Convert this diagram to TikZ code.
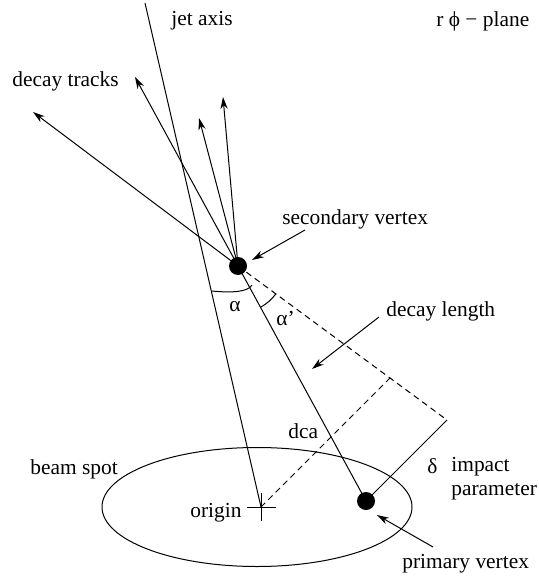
\documentclass[tikz,border=0pt]{standalone}
\usepackage{fontspec}
\setmainfont{Liberation Serif}
\usetikzlibrary{arrows.meta,calc}
\begin{document}
\begin{tikzpicture}[x=0.5pt,y=-0.5pt,
  ln/.style={line width=0.5pt},
  arr/.style={ln,-{Stealth[length=6pt,width=3.6pt]}},
  dsh/.style={ln,dash pattern=on 3pt off 2.2pt},
  lbl/.style={anchor=base west,inner sep=0pt,font=\fontsize{10.7}{12.8}\selectfont},
  vtx/.style={circle,fill=black,inner sep=0pt,minimum size=9pt}]
\useasboundingbox (0,0) rectangle (538,577);
% key points
\node[vtx] (sv) at (238,266) {};
\node[vtx] (pv) at (366,501) {};
\coordinate (jtop) at (145,3);
\coordinate (orig) at (261,507);
\coordinate (flend) at (447,420);
\coordinate (dcafoot) at (390,378);
\coordinate (t1) at (33,112);
\coordinate (t2) at (135,77);
\coordinate (t3) at (199,118);
\coordinate (t4) at (223,97);
% beam spot
\draw[ln] (257,507) ellipse [x radius=77.5pt, y radius=29.75pt];
% jet axis
\draw[ln] (jtop) -- (orig);
% origin cross
\coordinate (cl) at (247,507); \coordinate (cr) at (276,507);
\coordinate (ct) at (261,493); \coordinate (cb) at (261,521);
\draw[ln] (cl) -- (cr);
\draw[ln] (ct) -- (cb);
% decay tracks
\draw[arr] (sv.center) -- (t1);
\draw[arr] (sv.center) -- (t2);
\draw[arr] (sv.center) -- (t3);
\draw[arr] (sv.center) -- (t4);
% flight line and impact parameter
\draw[ln] (sv.center) -- (pv.center);
\draw[dsh] (sv.center) -- (flend);
\draw[ln] (flend) -- (pv.center);
\draw[dsh] (orig) -- (dcafoot);
% angles
\coordinate (a1) at (212,291); \coordinate (a2) at (252,285);
\draw[ln] (a1) .. controls (232,293) and (248,292) .. (a2);
\draw[ln] ($(sv.center)+(-61.4:23.5pt)$) arc[start angle=-61.4,end angle=-36.3,radius=23.5pt];
% labels
\node[lbl] (ljet) at (171,26) {jet axis};
\node[lbl] (lplane) at (436,27) {r ϕ − plane};
\node[lbl] (ltracks) at (12,87) {decay tracks};
\node[lbl] (lsv) at (282,224) {secondary vertex};
\node[lbl] (ldl) at (386,316) {decay length};
\node[lbl] (lalpha) at (229,311) {α};
\node[lbl] (lalphap) at (276,325) {α’};
\node[lbl] (ldca) at (288,438) {dca};
\node[lbl] (ldelta) at (427,473) {δ};
\node[lbl] (limp) at (451,471) {impact};
\node[lbl] (lpar) at (451,495) {parameter};
\node[lbl] (lpv) at (402,568) {primary vertex};
\node[lbl] (lbeam) at (30,474) {beam spot};
\node[lbl] (lorig) at (190,517) {origin};
% label arrows
\coordinate (svtail) at (305,230); \coordinate (svtip) at (252,260);
\coordinate (dltail) at (379,317); \coordinate (dltip) at (312,369);
\coordinate (pvtail) at (433,547); \coordinate (pvtip) at (377,515);
\draw[arr] (svtail) -- (svtip);
\draw[arr] (dltail) -- (dltip);
\draw[arr] (pvtail) -- (pvtip);
\end{tikzpicture}
\end{document}
